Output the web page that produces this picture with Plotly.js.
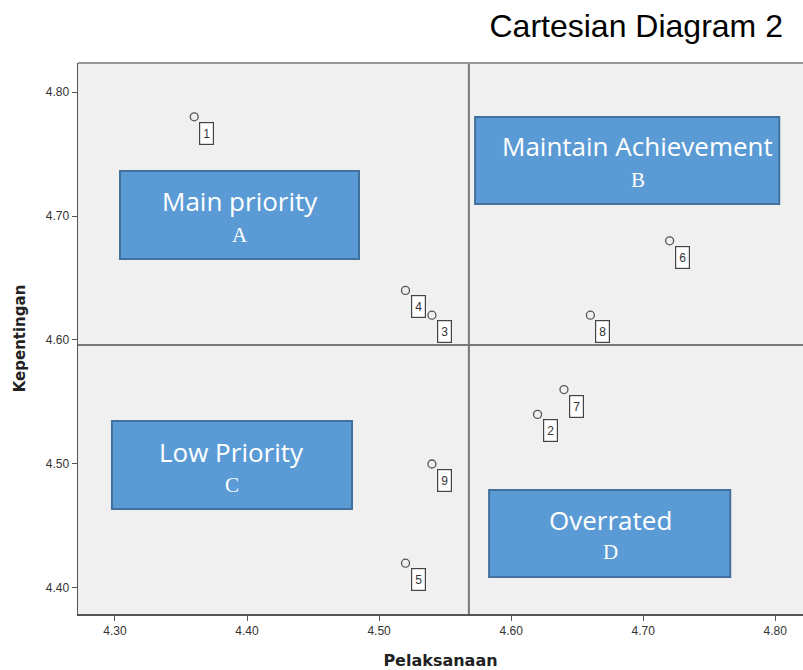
<!DOCTYPE html>
<html><head><meta charset="utf-8">
<script src="https://cdn.plot.ly/plotly-3.0.1.min.js"></script>
<style>html,body{margin:0;padding:0;background:#fff}#chart{width:803px;height:670px}</style>
</head><body><div id="chart"></div>
<script>
// Data
const ids = ["1","2","3","4","5","6","7","8","9"];
const pelaksanaan = [4.36, 4.62, 4.54, 4.52, 4.52, 4.72, 4.64, 4.66, 4.54];
const kepentingan = [4.78, 4.54, 4.62, 4.64, 4.42, 4.68, 4.56, 4.62, 4.50];
const xTicks = [4.30, 4.40, 4.50, 4.60, 4.70, 4.80];
const yTicks = [4.40, 4.50, 4.60, 4.70, 4.80];
const xMean = 4.568, yMean = 4.596;
const quadrants = [
  {name:"Main priority", letter:"A", x0:4.3038, x1:4.4848, y0:4.6653, y1:4.7363, tx:4.3943, ty1:4.7121, ty2:4.6847},
  {name:"Maintain Achievement", letter:"B", x0:4.5727, x1:4.8030, y0:4.7097, y1:4.7798, tx:4.6960, ty1:4.7565, ty2:4.7290},
  {name:"Low Priority", letter:"C", x0:4.2977, x1:4.4795, y0:4.4637, y1:4.5347, tx:4.3886, ty1:4.5097, ty2:4.4831},
  {name:"Overrated", letter:"D", x0:4.5833, x1:4.7659, y0:4.4089, y1:4.4790, tx:4.6750, ty1:4.4548, ty2:4.4290}
];

const trace = {
  x: pelaksanaan, y: kepentingan, type:'scatter', mode:'markers',
  marker:{symbol:'circle-open', size:8, color:'#555', line:{width:1.3, color:'#555'}},
  hoverinfo:'skip', showlegend:false
};

const shapes = [
  {type:'line', xref:'x', yref:'paper', x0:xMean, x1:xMean, y0:0, y1:1, line:{color:'#777', width:2}},
  {type:'line', xref:'paper', yref:'y', x0:0, x1:1, y0:yMean, y1:yMean, line:{color:'#777', width:2}},
  {type:'line', xref:'paper', yref:'paper', x0:0, x1:1, y0:1, y1:1, line:{color:'#999', width:2}}
];
const annotations = [];
ids.forEach((t,i)=>{
  annotations.push({x:pelaksanaan[i], y:kepentingan[i], xref:'x', yref:'y', text:t, showarrow:false,
    xanchor:'left', yanchor:'top', xshift:5, yshift:-5, width:11, height:19, borderpad:1,
    bgcolor:'#fff', bordercolor:'#444', borderwidth:1.2, font:{family:'Arial, Liberation Sans', size:12, color:'#333'}});
});
quadrants.forEach(q=>{
  shapes.push({type:'rect', xref:'x', yref:'y', x0:q.x0, x1:q.x1, y0:q.y0, y1:q.y1,
    fillcolor:'#5B9BD5', line:{color:'#41719C', width:2}, layer:'above'});
  annotations.push({x:q.tx, y:q.ty1, xref:'x', yref:'y', text:q.name, showarrow:false,
    font:{family:'Open Sans, Noto Sans', size:26, color:'#fff'}});
  annotations.push({x:q.tx, y:q.ty2, xref:'x', yref:'y', text:q.letter, showarrow:false,
    font:{family:'Liberation Serif, DejaVu Serif', size:21, color:'#fff'}});
});

const layout = {
  width:803, height:670,
  margin:{l:78, r:0, t:63, b:56},
  paper_bgcolor:'#fff', plot_bgcolor:'#F0F0F0',
  font:{family:'Arial, Liberation Sans', color:'#333'},
  title:{text:'Cartesian Diagram 2', x:0.975, xanchor:'right', y:0.962, yanchor:'middle', font:{family:'Arial, Liberation Sans', size:32, color:'#000'}},
  xaxis:{range:[4.272, 4.821], tickvals:xTicks, ticktext:xTicks.map(v=>v.toFixed(2)),
    ticks:'outside', ticklen:5, tickcolor:'#555', showgrid:false, zeroline:false,
    showline:true, linecolor:'#555', linewidth:1.5, tickfont:{size:12, color:'#333'},
    title:{text:'<b>Pelaksanaan</b>', font:{family:'DejaVu Sans', size:16, color:'#222'}, standoff:21}},
  yaxis:{range:[4.379, 4.8234], tickvals:yTicks, ticktext:yTicks.map(v=>v.toFixed(2)),
    ticks:'outside', ticklen:5, tickcolor:'#555', showgrid:false, zeroline:false,
    showline:true, linecolor:'#555', linewidth:1.5, tickfont:{size:12, color:'#333'},
    title:{text:'<b>Kepentingan</b>', font:{family:'DejaVu Sans', size:15, color:'#222'}, standoff:16}},
  shapes:shapes, annotations:annotations
};
Plotly.newPlot('chart',[trace],layout,{staticPlot:true, displayModeBar:false});
</script></body></html>
